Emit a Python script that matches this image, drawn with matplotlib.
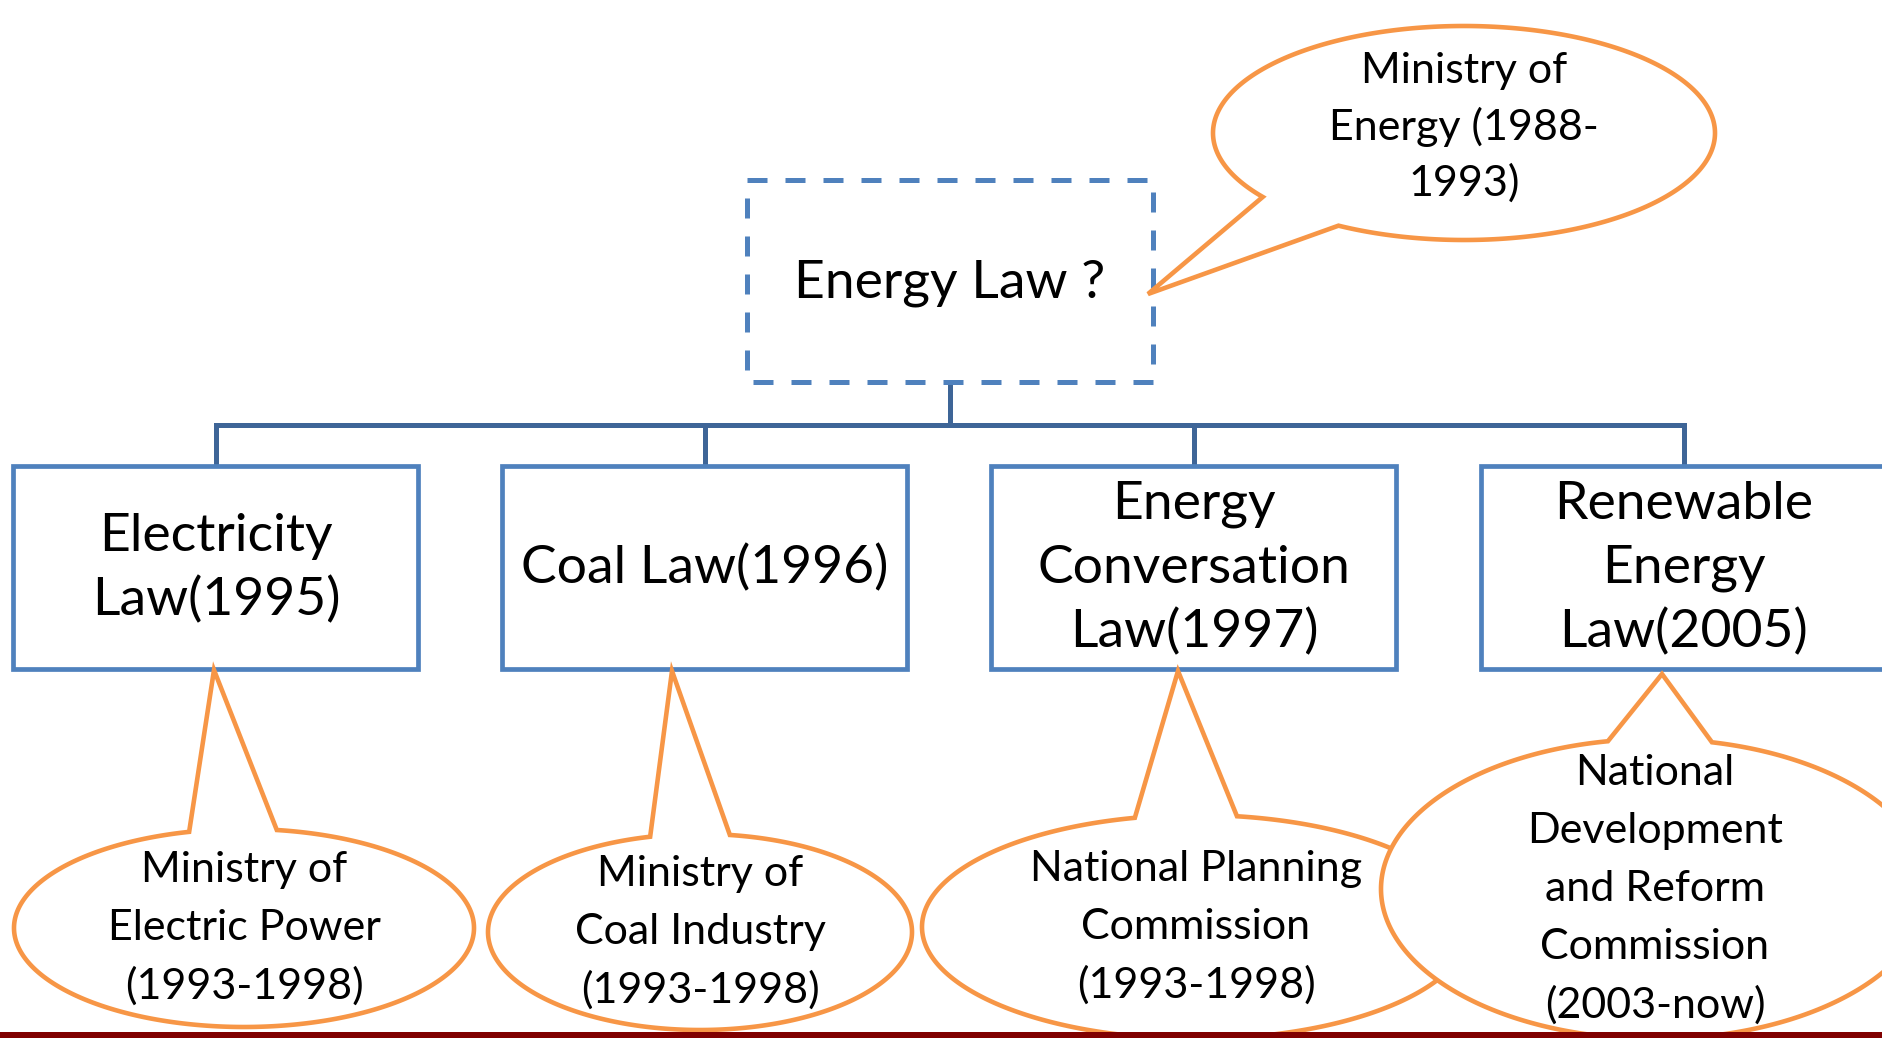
import numpy as np
import matplotlib
matplotlib.use("Agg")
import matplotlib.pyplot as plt
from matplotlib.patches import Rectangle, Polygon

# ---- content ----
root_label = "Energy Law ?"
root_agency = ["Ministry of", "Energy (1988-", "1993)"]
law_labels = [
    ["Electricity", "Law(1995)"],
    ["Coal Law(1996)"],
    ["Energy", "Conversation", "Law(1997)"],
    ["Renewable", "Energy", "Law(2005)"],
]
agency_labels = [
    ["Ministry of", "Electric Power", "(1993-1998)"],
    ["Ministry of", "Coal Industry", "(1993-1998)"],
    ["National Planning", "Commission", "(1993-1998)"],
    ["National", "Development", "and Reform", "Commission", "(2003-now)"],
]

# ---- layout (pixel space) ----
W, H = 1883, 1038
BLUE = "#4F81BD"
DBLUE = "#3E6597"
ORANGE = "#F79646"
RED = "#800000"
FONT = "Lato"
BIG = 38.5
SMALL = 31
BIG_LS = 64
SMALL_LS = 58

fig = plt.figure(figsize=(W / 100, H / 100), dpi=100)
ax = fig.add_axes([0, 0, 1, 1])
ax.set_xlim(0, W)
ax.set_ylim(H, 0)
ax.axis("off")


def lines_text(cx, cy, lines, size, ls, z=10):
    n = len(lines)
    for i, s in enumerate(lines):
        y = cy + (i - (n - 1) / 2) * ls
        ax.text(cx, y, s, ha="center", va="center", fontsize=size,
                family=FONT, color="black", zorder=z)


# root dashed box
root_cx, root_cy, root_w, root_h = 950, 281, 406, 202
ax.add_patch(Rectangle((root_cx - root_w / 2, root_cy - root_h / 2), root_w, root_h,
                       fill=False, ec=BLUE, lw=3.6, ls=(0, (4.0, 3.6)), zorder=3))
lines_text(root_cx, root_cy + 2, [root_label], BIG, BIG_LS)

# law boxes
box_cx = [216, 705, 1194, 1684]
box_top, box_h, box_w = 466, 203, 405
bus_y = 425
ax.plot([root_cx, root_cx], [root_cy + root_h / 2, bus_y], color=DBLUE, lw=3.6,
        solid_capstyle="butt", zorder=2)
ax.plot([box_cx[0], box_cx[-1]], [bus_y, bus_y], color=DBLUE, lw=3.6,
        solid_capstyle="projecting", zorder=2)
for cx, lab in zip(box_cx, law_labels):
    ax.plot([cx, cx], [bus_y, box_top], color=DBLUE, lw=3.6, solid_capstyle="butt", zorder=2)
    ax.add_patch(Rectangle((cx - box_w / 2, box_top), box_w, box_h, fc="white",
                           ec=BLUE, lw=3.4, zorder=3))
    lines_text(cx, box_top + box_h / 2 + 1, lab, BIG, BIG_LS)


def bubble(cx, cy, a, b, th1, th2, tip, z):
    # ellipse outline from th1 the long way round to th2, closed through the tail tip
    if th2 < th1:
        th2 += 360
    t = np.deg2rad(np.linspace(th1, th2, 400))
    pts = np.column_stack([cx + a * np.cos(t), cy - b * np.sin(t)])
    pts = np.vstack([pts, [tip]])
    ax.add_patch(Polygon(pts, closed=True, fc="white", ec=ORANGE, lw=3.3,
                         joinstyle="miter", zorder=z))


# bubble geometry: center, semi axes, tail base angles, tip
bub_geo = [
    (244, 928, 230, 99, 103.8, 81.8, (214, 670)),
    (700, 932, 212, 98, 103.6, 81.9, (672, 671)),
    (1196, 927, 274, 112, 102.9, 81.4, (1178, 671)),
    (1655, 889, 274, 150, 99.9, 78.0, (1662, 674)),
]
for i, ((cx, cy, a, b, t1, t2, tip), lab) in enumerate(zip(bub_geo, agency_labels)):
    bubble(cx, cy, a, b, t1, t2, tip, z=5 + 2 * i)
    lines_text(cx, cy, lab, SMALL, SMALL_LS, z=6 + 2 * i)

# root bubble (tail pointing down-left)
bubble(1464, 133, 251, 107, 240.0, 216.7, (1148, 294), z=5)
lines_text(1464, 127, root_agency, SMALL, 56.5, z=6)

# bottom red band
ax.add_patch(Rectangle((0, 1032), W, 8, fc=RED, ec="none", zorder=30))

fig.savefig("out.png", dpi=100)
